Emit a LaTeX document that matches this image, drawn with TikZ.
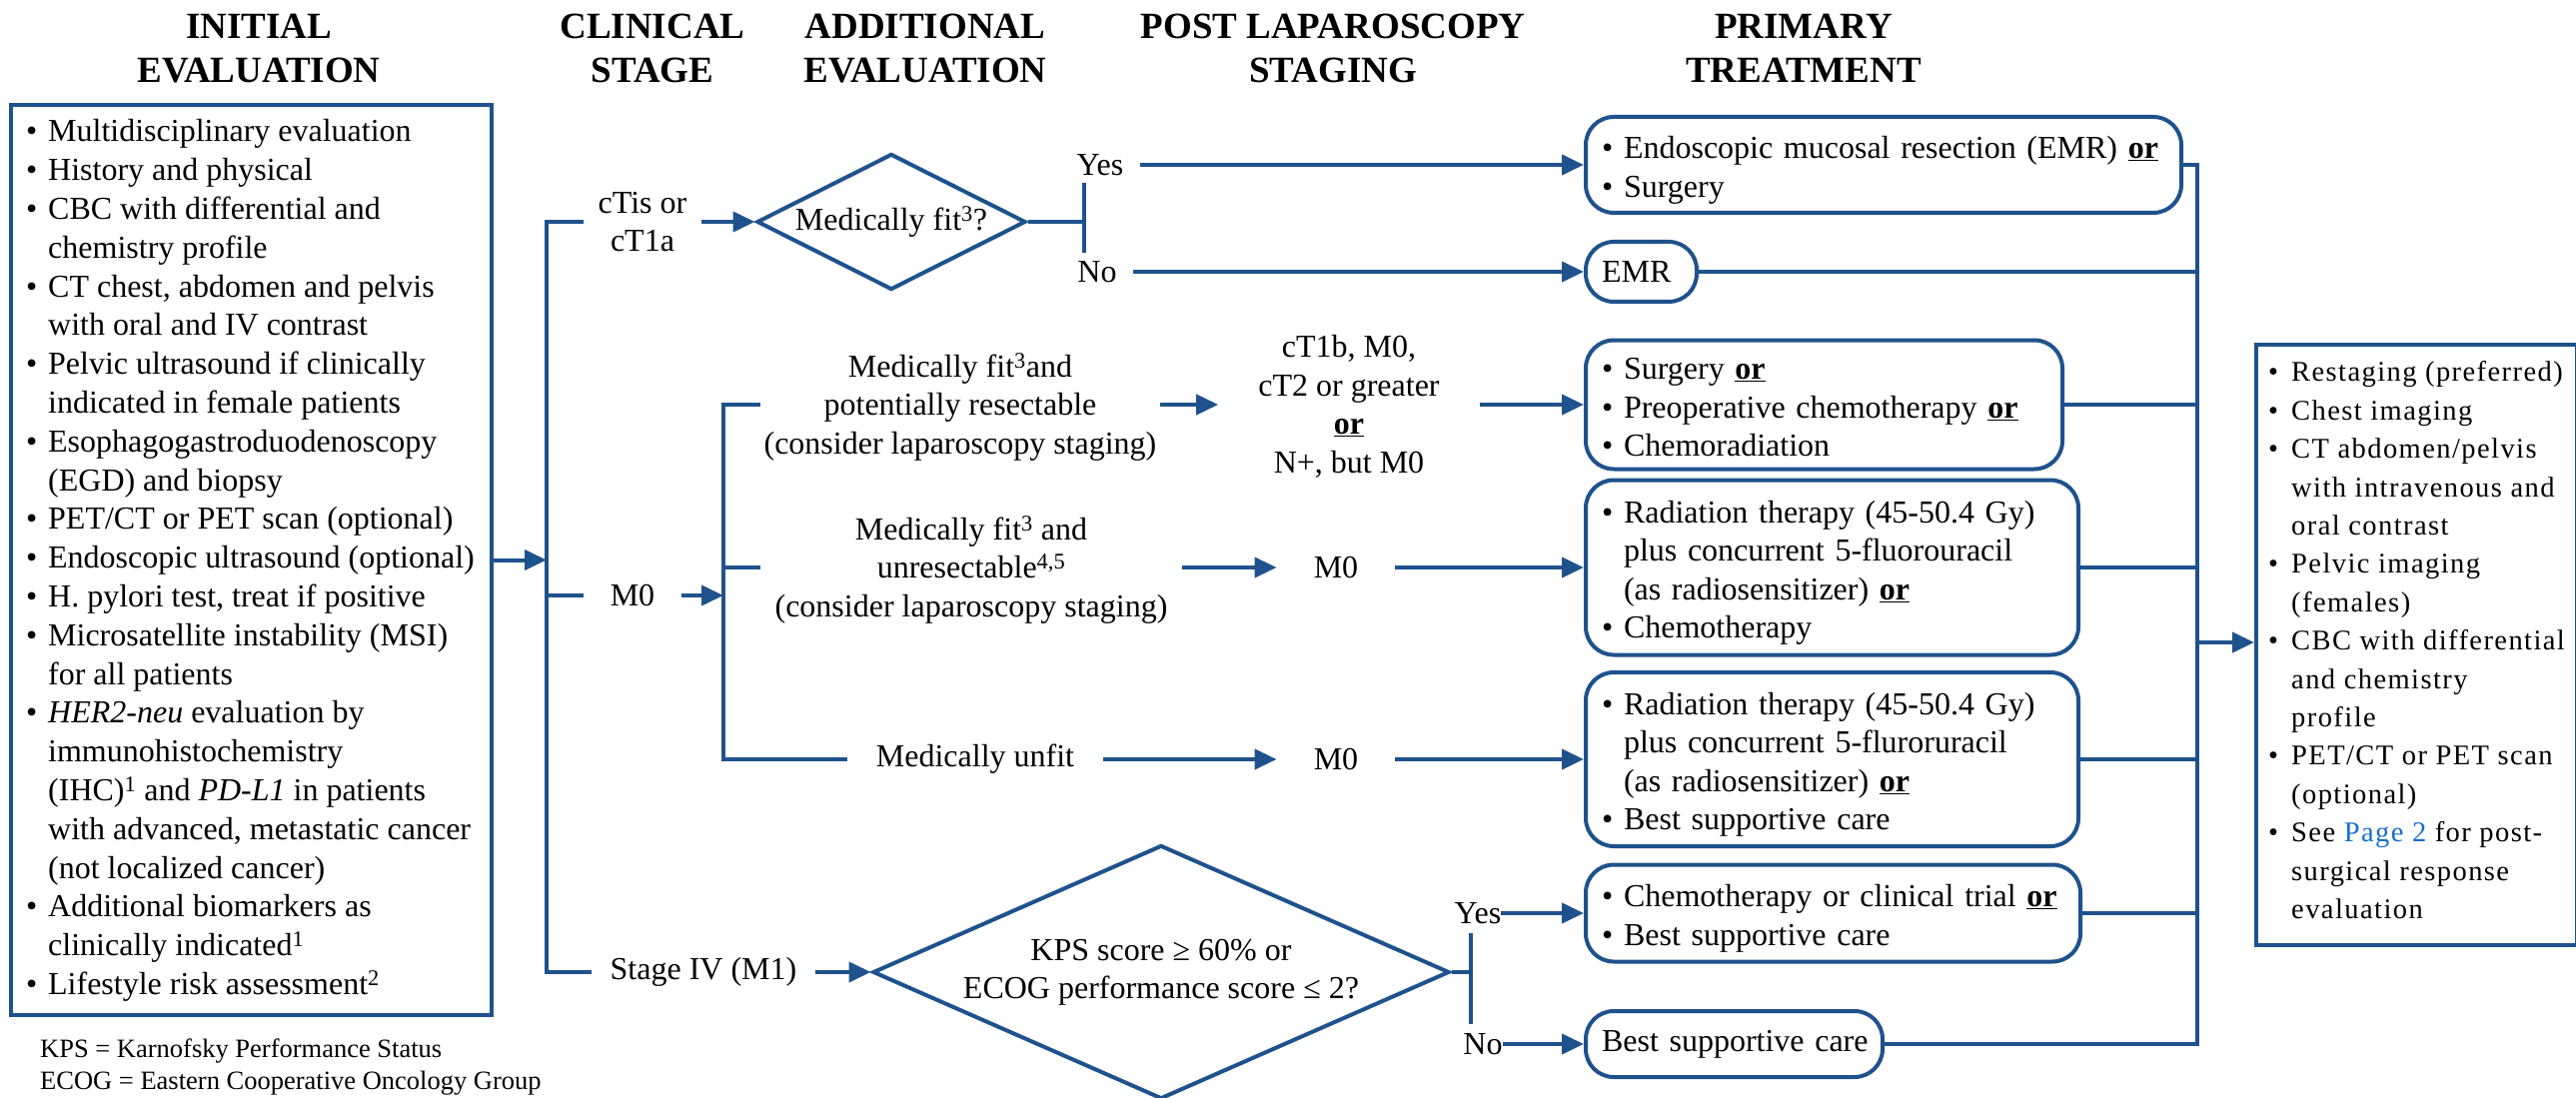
\documentclass[tikz,border=0pt]{standalone}
\usepackage{fontspec}
\setmainfont{Liberation Serif}
\newfontfamily\widefont{Liberation Serif}[LetterSpace=5.0]
\usetikzlibrary{arrows.meta,shapes.geometric}
\definecolor{nccn}{RGB}{31,82,140}
\definecolor{linkblue}{RGB}{25,110,205}
\newcommand{\nfs}{\fontsize{32}{38.5}\selectfont}
\newcommand{\mybul}{\makebox[22pt][l]{\textbullet}}
\newcommand{\myind}{\hspace*{22pt}}
\newcommand{\rbul}{\makebox[23pt][l]{\textbullet}}
\newcommand{\rind}{\hspace*{23pt}}
\newcommand{\myor}{\underline{\textbf{or}}}
\newcommand{\fstrut}{\rule{0pt}{38pt}}
\begin{document}
\begin{tikzpicture}[x=1pt,y=-1pt,
  conn/.style={draw=nccn,line width=4pt},
  arr/.style={conn,-{Triangle[length=22pt,width=20pt]}},
  lbl/.style={font=\nfs,inner ysep=2pt},
  hdr/.style={font=\fontsize{37}{44}\selectfont\bfseries,align=center,inner sep=0pt},
  tbox/.style={draw=nccn,line width=4pt,rounded corners=28pt,font=\nfs,align=left,inner xsep=16pt,inner ysep=0pt,anchor=west},
  dia/.style={draw=nccn,line width=4pt,shape=diamond,inner sep=0pt,font=\nfs,align=center},
  sqbox/.style={draw=nccn,line width=4pt,anchor=north west,inner sep=0pt},
]
\useasboundingbox (0,0) rectangle (2578,1099);

% headers
\node[hdr] (h1) at (259,52) {\strut INITIAL\\\strut EVALUATION};
\node[hdr] (h2) at (653,52) {\strut CLINICAL\\\strut STAGE};
\node[hdr] (h3) at (926,52) {\strut ADDITIONAL\\\strut EVALUATION};
\node[hdr] (h4) at (1334,52) {\strut POST LAPAROSCOPY\\\strut STAGING};
\node[hdr] (h5) at (1805,52) {\strut PRIMARY\\\strut TREATMENT};

% initial evaluation box
\node[sqbox,minimum width=481pt,minimum height=911pt] (ie) at (9,103) {};
\node[font=\fontsize{32}{38.8}\selectfont,align=left,inner sep=0pt,anchor=west] (iet) at (26,561) {%
\strut\mybul Multidisciplinary evaluation\\
\strut\mybul History and physical\\
\strut\mybul CBC with differential and\\
\strut\myind chemistry profile\\
\strut\mybul CT chest, abdomen and pelvis\\
\strut\myind with oral and IV contrast\\
\strut\mybul Pelvic ultrasound if clinically\\
\strut\myind indicated in female patients\\
\strut\mybul Esophagogastroduodenoscopy\\
\strut\myind (EGD) and biopsy\\
\strut\mybul PET/CT or PET scan (optional)\\
\strut\mybul Endoscopic ultrasound (optional)\\
\strut\mybul H. pylori test, treat if positive\\
\strut\mybul Microsatellite instability (MSI)\\
\strut\myind for all patients\\
\strut\mybul \textit{HER2-neu} evaluation by\\
\strut\myind immunohistochemistry\\
\strut\myind (IHC)\textsuperscript{1} and \textit{PD-L1} in patients\\
\strut\myind with advanced, metastatic cancer\\
\strut\myind (not localized cancer)\\
\strut\mybul Additional biomarkers as\\
\strut\myind clinically indicated\textsuperscript{1}\\
\strut\mybul Lifestyle risk assessment\textsuperscript{2}};

\node[font=\fontsize{26.5}{32}\selectfont,align=left,inner sep=0pt,anchor=west] (fn) at (40,1068) {\strut KPS = Karnofsky Performance Status\\\strut ECOG = Eastern Cooperative Oncology Group};

% clinical stage trunk
\coordinate (t1) at (547,222);
\coordinate (tin) at (547,558);
\coordinate (t2) at (547,596);
\coordinate (t3) at (547,973);
\node[lbl,inner xsep=14pt,align=center] (ct) at (643,225) {\strut cTis or\\\strut cT1a};
\node[lbl,inner xsep=27pt] (m0a) at (633,596) {M0};
\node[lbl,inner xsep=18pt] (s4) at (704,973) {Stage IV (M1)};
\draw[conn] (t1 -| ct.west) -- (t1) -- (t3) -- (t3 -| s4.west);
\draw[conn] (t2) -- (t2 -| m0a.west);
\draw[arr] (ie.east) -- (ie.east -| tin);

% diamond 1
\node[dia,shape aspect=1.98,minimum width=269pt,minimum height=136pt] (d1) at (892,222) {Medically fit\textsuperscript{3}?};
\draw[arr] (ct.east |- t1) -- (d1.west);
\coordinate (k1) at (1085,222);
\coordinate (k1t) at (1085,183);
\coordinate (k1b) at (1085,253);
\draw[conn] (d1.east) -- (k1);
\draw[conn] (k1t) -- (k1b);
\node[lbl,inner xsep=17pt] (y1) at (1101,165) {Yes};
\node[lbl,inner xsep=16pt] (n1) at (1098,272) {No};

% M0 sub-trunk
\coordinate (u1) at (724,405);
\coordinate (um) at (724,596);
\coordinate (u2) at (724,568);
\coordinate (u3) at (724,760);
\draw[arr] (m0a.east) -- (um);
\node[lbl,inner xsep=3pt,align=center] (f1) at (961,408) {\strut Medically fit\textsuperscript{3}and\\\strut potentially resectable\\\strut (consider laparoscopy staging)};
\node[lbl,inner xsep=14pt,align=center] (f2) at (972,571) {\strut Medically fit\textsuperscript{3} and\\\strut unresectable\textsuperscript{4,5}\\\strut (consider laparoscopy staging)};
\node[lbl,inner xsep=29pt] (uf) at (976,760) {Medically unfit};
\draw[conn] (u1 -| f1.west) -- (u1) -- (u3) -- (u3 -| uf.west);
\draw[conn] (u2) -- (u2 -| f2.west);

\node[lbl,inner xsep=40pt,align=center] (p1) at (1350,408) {\strut cT1b, M0,\\\strut cT2 or greater\\\strut\myor\\\strut N+, but M0};
\node[lbl,inner xsep=37pt] (m0b) at (1337,568) {M0};
\node[lbl,inner xsep=37pt] (m0c) at (1337,760) {M0};
\draw[arr] (f1.east |- u1) -- (u1 -| p1.west);
\draw[arr] (f2.east |- u2) -- (u2 -| m0b.west);
\draw[arr] (uf.east |- u3) -- (u3 -| m0c.west);

% diamond 2
\node[dia,shape aspect=2.27,minimum width=577pt,minimum height=254pt] (d2) at (1162,973) {\strut KPS score ≥ 60\% or\\\strut ECOG performance score ≤ 2?};
\draw[arr] (s4.east |- t3) -- (d2.west);
\coordinate (k2) at (1472,973);
\coordinate (k2t) at (1472,934);
\coordinate (k2b) at (1472,1025);
\draw[conn] (d2.east) -- (k2);
\draw[conn] (k2t) -- (k2b);
\node[lbl,inner xsep=0pt] (y2) at (1479,914) {Yes};
\node[lbl,inner xsep=0pt] (n2) at (1484,1045) {No};

% treatment boxes
\node[tbox,minimum width=596pt,minimum height=96pt,text width=564pt] (b1) at (1585,165) {\fstrut\mybul Endoscopic mucosal resection (EMR) \myor\\\strut\mybul Surgery};
\node[tbox,minimum width=111pt,minimum height=60pt,text width=79pt] (emr) at (1585,272) {\mbox{EMR}};
\node[tbox,minimum width=477pt,minimum height=129pt,text width=445pt] (b3) at (1585,405) {\fstrut\mybul Surgery \myor\\\strut\mybul Preoperative chemotherapy \myor\\\strut\mybul Chemoradiation};
\node[tbox,minimum width=493pt,minimum height=175pt,text width=461pt] (b4) at (1585,568) {\fstrut\mybul Radiation therapy (45-50.4 Gy)\\\strut\myind plus concurrent 5-fluorouracil\\\strut\myind (as radiosensitizer) \myor\\\strut\mybul Chemotherapy};
\node[tbox,minimum width=493pt,minimum height=174pt,text width=461pt] (b5) at (1585,760) {\fstrut\mybul Radiation therapy (45-50.4 Gy)\\\strut\myind plus concurrent 5-fluroruracil\\\strut\myind (as radiosensitizer) \myor\\\strut\mybul Best supportive care};
\node[tbox,minimum width=495pt,minimum height=97pt,text width=463pt] (b6) at (1585,914) {\fstrut\mybul Chemotherapy or clinical trial \myor\\\strut\mybul Best supportive care};
\node[tbox,minimum width=297pt,minimum height=66pt,text width=265pt] (b7) at (1585,1045) {\mbox{Best supportive care}};

\draw[arr] (y1.east) -- (y1.east -| b1.west);
\draw[arr] (n1.east) -- (n1.east -| emr.west);
\draw[arr] (p1.east |- u1) -- (u1 -| b3.west);
\draw[arr] (m0b.east) -- (m0b.east -| b4.west);
\draw[arr] (m0c.east) -- (m0c.east -| b5.west);
\draw[arr] (y2.east) -- (y2.east -| b6.west);
\draw[arr] (n2.east) -- (n2.east -| b7.west);

% collector
\coordinate (ca) at (2199,165);
\coordinate (cm) at (2199,643);
\draw[conn] (b1.east) -- (b1.east -| ca) -- (b7.east -| ca) -- (b7.east);
\foreach \b in {emr,b3,b4,b5,b6} \draw[conn] (\b.east) -- (\b.east -| ca);

% follow-up box
\node[sqbox,minimum width=321pt,minimum height=601pt] (rb) at (2256,343) {};
\draw[arr] (cm) -- (cm -| rb.west);
\node[font=\widefont\fontsize{28.5}{38.4}\selectfont,align=left,inner sep=0pt,anchor=west] (rbt) at (2270,643) {%
\strut\rbul Restaging (preferred)\\
\strut\rbul Chest imaging\\
\strut\rbul CT abdomen/pelvis\\
\strut\rind with intravenous and\\
\strut\rind oral contrast\\
\strut\rbul Pelvic imaging\\
\strut\rind (females)\\
\strut\rbul CBC with differential\\
\strut\rind and chemistry\\
\strut\rind profile\\
\strut\rbul PET/CT or PET scan\\
\strut\rind (optional)\\
\strut\rbul See \textcolor{linkblue}{Page 2} for post-\\
\strut\rind surgical response\\
\strut\rind evaluation};
\end{tikzpicture}
\end{document}
